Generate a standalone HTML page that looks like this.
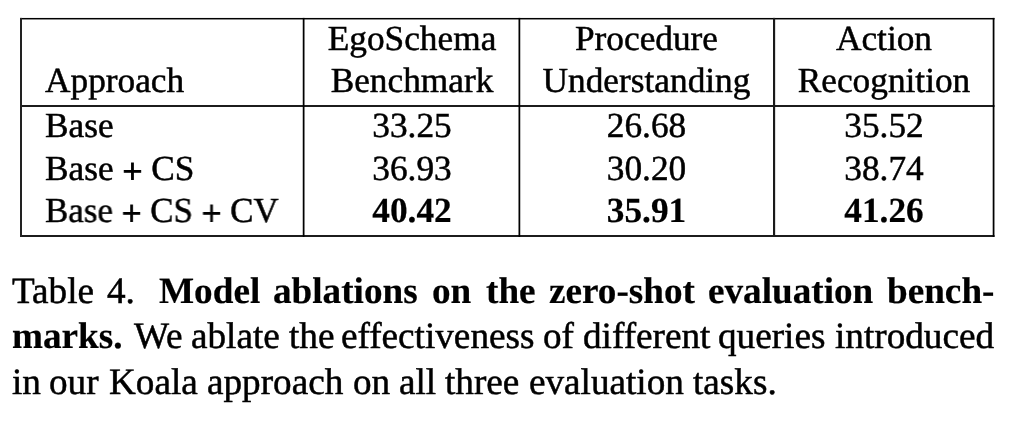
<!DOCTYPE html>
<html><head><meta charset="utf-8">
<style>
html,body{margin:0;padding:0;background:#fff;}
body{width:1020px;height:440px;position:relative;overflow:hidden;color:#000;}
.t,.w{will-change:transform;text-rendering:geometricPrecision;}
svg{position:absolute;left:0;top:0;}
.t{position:absolute;font-family:"Liberation Serif",serif;font-size:35.3px;line-height:35.3px;white-space:pre;-webkit-text-stroke:0.5px #000;}
.c{text-align:center;}
.sx{transform:scaleX(0.99);transform-origin:0 0;}
.w{position:absolute;font-family:"Liberation Serif",serif;font-size:37.2px;line-height:37.2px;white-space:pre;-webkit-text-stroke:0.5px #000;}
.p{position:relative;top:3px;-webkit-text-stroke:1px #000;}
.b{font-weight:bold;-webkit-text-stroke:0.2px #000;}
</style></head><body>

<svg width="1020" height="440" viewBox="0 0 1020 440">
<rect x="20" y="17.95" width="974.5" height="1.5" fill="#000"/>
<rect x="20" y="105" width="974.5" height="2" fill="#1c1c1c"/>
<rect x="20" y="235" width="974.5" height="2" fill="#1c1c1c"/>
<rect x="20" y="17.9" width="2" height="219.1" fill="#222"/>
<rect x="302.75" y="17.9" width="1.75" height="219.1" fill="#000"/>
<rect x="518.5" y="17.9" width="1.75" height="219.1" fill="#000"/>
<rect x="773" y="17.9" width="2.15" height="219.1" fill="#1a1a1a"/>
<rect x="992.7" y="17.9" width="1.75" height="219.1" fill="#000"/>
</svg>
<div class="t c" style="left:304.5px;top:21px;width:214px;">EgoSchema</div>
<div class="t c" style="left:520.25px;top:21px;width:253px;">Procedure</div>
<div class="t c" style="left:775px;top:21px;width:218px;">Action</div>
<div class="t " style="left:45px;top:63px;">Approach</div>
<div class="t c" style="left:304.5px;top:63px;width:214px;">Benchmark</div>
<div class="t c" style="left:520.25px;top:63px;width:253px;">Understanding</div>
<div class="t c" style="left:775px;top:63px;width:218px;">Recognition</div>
<div class="t " style="left:45px;top:107.6px;">Base</div>
<div class="t c" style="left:304.5px;top:107.6px;width:214px;">33.25</div>
<div class="t c" style="left:520.25px;top:107.6px;width:253px;">26.68</div>
<div class="t c" style="left:775px;top:107.6px;width:218px;">35.52</div>
<div class="t " style="left:45px;top:150.6px;">Base <span class="p">+</span> CS</div>
<div class="t c" style="left:304.5px;top:150.6px;width:214px;">36.93</div>
<div class="t c" style="left:520.25px;top:150.6px;width:253px;">30.20</div>
<div class="t c" style="left:775px;top:150.6px;width:218px;">38.74</div>
<div class="t sx" style="left:45px;top:192.6px;">Base <span class="p">+</span> CS <span class="p">+</span> CV</div>
<div class="t c b" style="left:304.5px;top:192.6px;width:214px;">40.42</div>
<div class="t c b" style="left:520.25px;top:192.6px;width:253px;">35.91</div>
<div class="t c b" style="left:775px;top:192.6px;width:218px;">41.26</div>
<span class="w" style="left:12.0px;top:272.5px;">Table</span>
<span class="w" style="left:107px;top:272.5px;">4.</span>
<span class="w b" style="left:159px;top:272.5px;">Model</span>
<span class="w b" style="left:273.0px;top:272.5px;">ablations</span>
<span class="w b" style="left:432px;top:272.5px;">on</span>
<span class="w b" style="left:485.5px;top:272.5px;">the</span>
<span class="w b" style="left:548.5px;top:272.5px;">zero-shot</span>
<span class="w b" style="left:707.5px;top:272.5px;">evaluation</span>
<span class="w b" style="left:887.0px;top:272.5px;">bench-</span>
<span class="w b" style="left:12.0px;top:317.5px;">marks.</span>
<span class="w" style="left:133.5px;top:317.5px;">We</span>
<span class="w" style="left:191.0px;top:317.5px;">ablate</span>
<span class="w" style="left:289px;top:317.5px;">the</span>
<span class="w" style="left:341.0px;top:317.5px;">effectiveness</span>
<span class="w" style="left:542.5px;top:317.5px;">of</span>
<span class="w" style="left:582.5px;top:317.5px;">different</span>
<span class="w" style="left:717.5px;top:317.5px;">queries</span>
<span class="w" style="left:834.5px;top:317.5px;">introduced</span>
<span class="w" style="left:12.0px;top:363.5px;">in</span>
<span class="w" style="left:49px;top:363.5px;">our</span>
<span class="w" style="left:109px;top:363.5px;">Koala</span>
<span class="w" style="left:206.5px;top:363.5px;">approach</span>
<span class="w" style="left:352.5px;top:363.5px;">on</span>
<span class="w" style="left:398.5px;top:363.5px;">all</span>
<span class="w" style="left:445px;top:363.5px;">three</span>
<span class="w" style="left:528.5px;top:363.5px;">evaluation</span>
<span class="w" style="left:692.5px;top:363.5px;">tasks.</span>
</body></html>
